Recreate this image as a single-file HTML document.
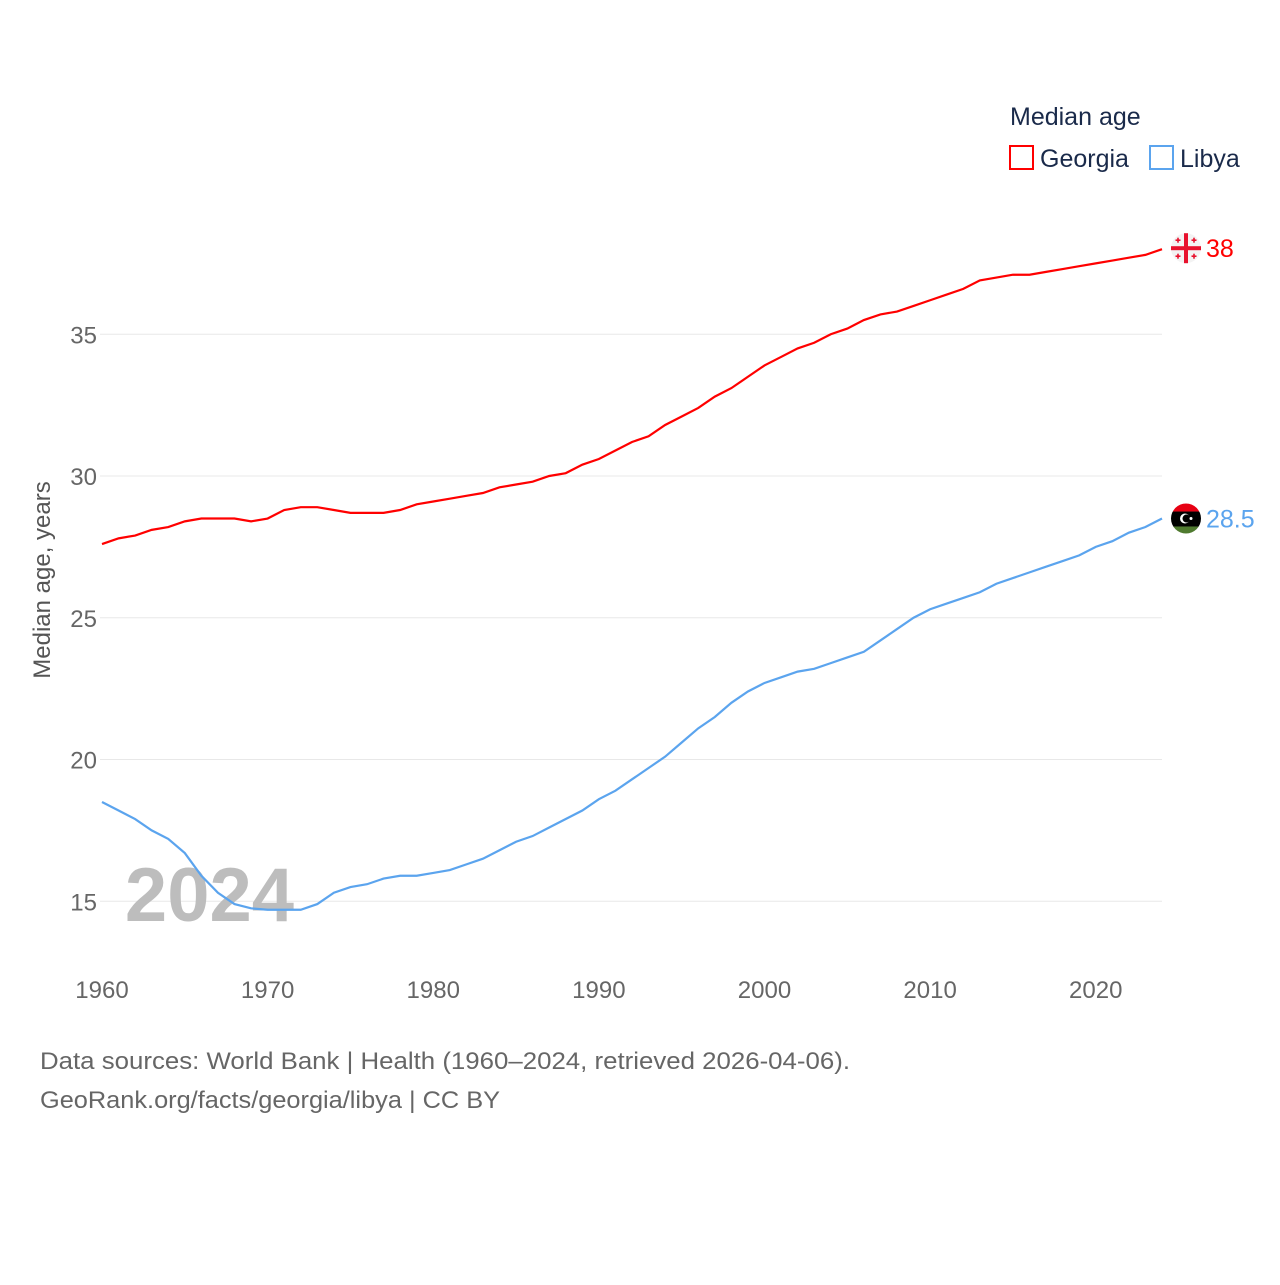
<!DOCTYPE html>
<html><head><meta charset="utf-8"><style>
body{margin:0;background:#fff;}
svg text{font-family:"Liberation Sans",sans-serif;}
</style></head><body>
<svg width="1280" height="1280" xmlns="http://www.w3.org/2000/svg" id="chart">
<g id="grid"></g>
<g id="xt"></g>
<text x="294" y="921" font-size="76" fill="#bdbdbd" font-weight="bold" text-anchor="end">2024</text>
<text transform="translate(50,580) rotate(-90)" font-size="24" fill="#555" text-anchor="middle">Median age, years</text>
<g id="lines"></g>
<g>
<text x="1010" y="125" font-size="25" fill="#1a2a4a">Median age</text>
<g><rect x="1010" y="146" width="23" height="23" fill="none" stroke="#ff0000" stroke-width="2"/><text x="1040" y="167" font-size="25" fill="#1a2a4a">Georgia</text></g>
<g><rect x="1150" y="146" width="23" height="23" fill="none" stroke="#5ba4ee" stroke-width="2"/><text x="1180" y="167" font-size="25" fill="#1a2a4a">Libya</text></g>
</g>
<g id="ends"></g>
<text x="40" y="1069" font-size="24" fill="#666" textLength="810" lengthAdjust="spacingAndGlyphs">Data sources: World Bank | Health (1960–2024, retrieved 2026-04-06).</text>
<text x="40" y="1108" font-size="24" fill="#666" textLength="460" lengthAdjust="spacingAndGlyphs">GeoRank.org/facts/georgia/libya | CC BY</text>
</svg>
<script>
const years=[];for(let y=1960;y<=2024;y++)years.push(y);
const georgia=[27.6,27.8,27.9,28.1,28.2,28.4,28.5,28.5,28.5,28.4,28.5,28.8,28.9,28.9,28.8,28.7,28.7,28.7,28.8,29.0,29.1,29.2,29.3,29.4,29.6,29.7,29.8,30.0,30.1,30.4,30.6,30.9,31.2,31.4,31.8,32.1,32.4,32.8,33.1,33.5,33.9,34.2,34.5,34.7,35.0,35.2,35.5,35.7,35.8,36.0,36.2,36.4,36.6,36.9,37.0,37.1,37.1,37.2,37.3,37.4,37.5,37.6,37.7,37.8,38.0];
const libya=[18.5,18.2,17.9,17.5,17.2,16.7,15.9,15.3,14.9,14.75,14.7,14.7,14.7,14.9,15.3,15.5,15.6,15.8,15.9,15.9,16.0,16.1,16.3,16.5,16.8,17.1,17.3,17.6,17.9,18.2,18.6,18.9,19.3,19.7,20.1,20.6,21.1,21.5,22.0,22.4,22.7,22.9,23.1,23.2,23.4,23.6,23.8,24.2,24.6,25.0,25.3,25.5,25.7,25.9,26.2,26.4,26.6,26.8,27.0,27.2,27.5,27.7,28.0,28.2,28.5];
const yTicks=[15,20,25,30,35];
const xTicks=[1960,1970,1980,1990,2000,2010,2020];
const endLabels=["38","28.5"];
const NS="http://www.w3.org/2000/svg";
const X=y=>102+(y-1960)*(1060/64);
const Y=v=>476-(v-30)*28.35;
function mk(t,a,p){const e=document.createElementNS(NS,t);for(const k in a)e.setAttribute(k,a[k]);p.appendChild(e);return e;}
const grid=document.getElementById('grid');
yTicks.forEach(v=>{
 const l=mk('line',{x1:100,x2:1162,y1:Y(v),y2:Y(v),stroke:'#e8e8e8','stroke-width':1},grid);
 
 
 const t=mk('text',{x:97,y:Y(v)+9,'font-size':24,fill:'#666','text-anchor':'end'},grid);t.textContent=v;
 
 
});
const xt=document.getElementById('xt');
xTicks.forEach(v=>{
 const t=mk('text',{x:X(v),y:998,'font-size':24,fill:'#666','text-anchor':'middle'},xt);t.textContent=v;
 
 
});
const lines=document.getElementById('lines');
[[georgia,'#ff0000','georgia-line'],[libya,'#5ba4ee','libya-line']].forEach(([d,c,n])=>{
 const p=mk('polyline',{points:d.map((v,i)=>X(years[i])+','+Y(v)).join(' '),fill:'none',stroke:c,'stroke-width':2.2},lines);
 
 
});
const ends=document.getElementById('ends');
const gx=1186,gy=Y(georgia[georgia.length-1])-1,ly=Y(libya[libya.length-1]);
const gf=mk('g',{},ends);


mk('circle',{cx:gx,cy:gy,r:15,fill:'#f3f3f3'},gf);
mk('rect',{x:gx-15,y:gy-2,width:30,height:4,fill:'#e8112d'},gf);
mk('rect',{x:gx-2,y:gy-15,width:4,height:30,fill:'#e8112d'},gf);
[[-8,-8],[8,-8],[-8,8],[8,8]].forEach(([a,b])=>{mk('rect',{x:gx+a-2.5,y:gy+b-0.8,width:5,height:1.6,fill:'#e8112d'},gf);mk('rect',{x:gx+a-0.8,y:gy+b-2.5,width:1.6,height:5,fill:'#e8112d'},gf);});
const t1=mk('text',{x:1206,y:gy+9,'font-size':25,fill:'#ff0000'},ends);t1.textContent=endLabels[0];


const lf=mk('g',{},ends);


const clip=mk('clipPath',{id:'lc'},lf);
mk('circle',{cx:gx,cy:ly,r:15},clip);
const lg=mk('g',{'clip-path':'url(#lc)'},lf);
mk('rect',{x:gx-15,y:ly-15,width:30,height:8,fill:'#e70013'},lg);
mk('rect',{x:gx-15,y:ly-7,width:30,height:15,fill:'#000'},lg);
mk('rect',{x:gx-15,y:ly+8,width:30,height:8,fill:'#4f7a2f'},lg);
mk('circle',{cx:gx-1,cy:ly,r:5,fill:'#fff'},lf);
mk('circle',{cx:gx+0.5,cy:ly,r:4,fill:'#000'},lf);
mk('circle',{cx:gx+5,cy:ly,r:1.5,fill:'#fff'},lf);
const t2=mk('text',{x:1206,y:ly+9,'font-size':25,fill:'#5ba4ee'},ends);t2.textContent=endLabels[1];


</script>
</body></html>
